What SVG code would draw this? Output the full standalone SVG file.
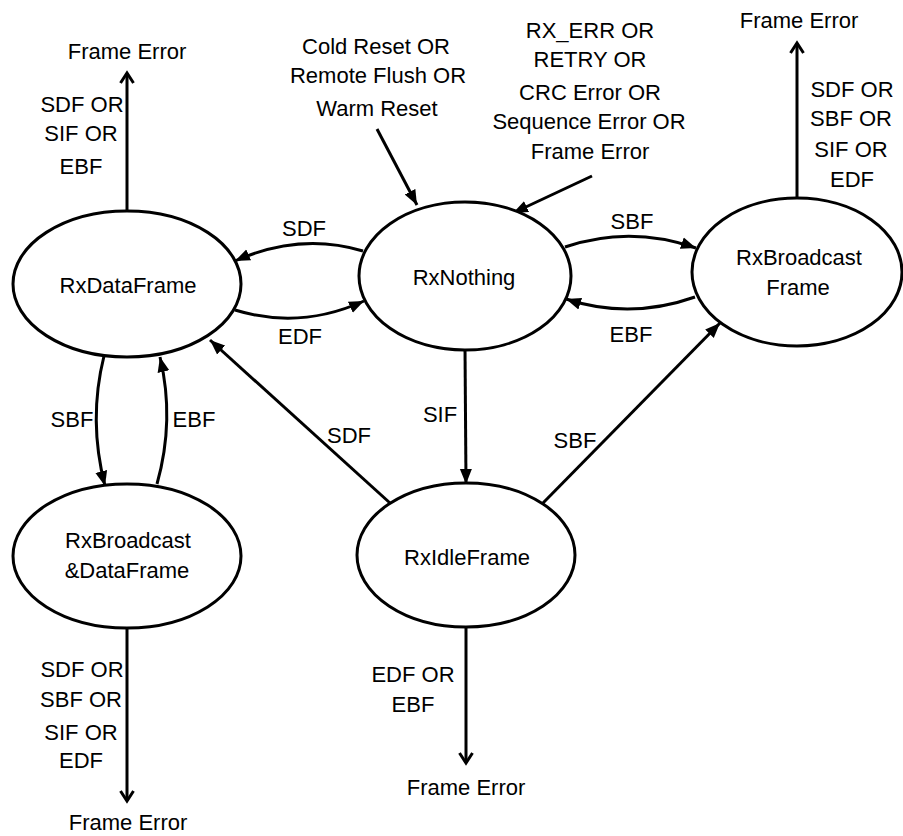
<svg xmlns="http://www.w3.org/2000/svg" width="903" height="836" viewBox="0 0 903 836">
<style>
text{font-family:"Liberation Sans",Arial,sans-serif;font-size:22px;fill:#000;text-anchor:middle}
.st{fill:#fff;stroke:#000;stroke-width:3}
.c{fill:none;stroke:#000;stroke-width:3}
.f{marker-end:url(#fa)}
.o{marker-end:url(#oa)}
</style>
<defs>
<marker id="fa" markerUnits="userSpaceOnUse" markerWidth="16" markerHeight="14" refX="15" refY="7" orient="auto" viewBox="0 0 16 14">
<path d="M0,1 L15,7 L0,13 z" fill="#000"/>
</marker>
<marker id="oa" markerUnits="userSpaceOnUse" markerWidth="14" markerHeight="16" refX="11" refY="8" orient="auto" viewBox="0 0 14 16">
<path d="M1,1.5 L11,8 L1,14.5" fill="none" stroke="#000" stroke-width="3"/>
</marker>
</defs>
<rect width="903" height="836" fill="#fff"/>
<g id="connectors">
<path class="c o" d="M127,211 L127,73"/>
<path class="c o" d="M797,198 L797,43"/>
<path class="c o" d="M127,628 L127,801"/>
<path class="c o" d="M466,627 L466,763"/>
<path class="c f" d="M377,129 L417,205"/>
<path class="c f" d="M592,176 L513,213"/>
<path class="c f" d="M363,251 Q300,232 235,261"/>
<path class="c f" d="M235,310 Q300,330 364,301"/>
<path class="c f" d="M565,247 Q630,225 696,248"/>
<path class="c f" d="M695,297 Q630,320 566,299"/>
<path class="c f" d="M104,356 Q88,420 105,486"/>
<path class="c f" d="M157,484 Q175,420 160,357"/>
<path class="c f" d="M390,503 L210,340"/>
<path class="c f" d="M465,348 L466,484"/>
<path class="c f" d="M543,503 L720,323"/>
</g>
<g id="labels">
<text x="127" y="59">Frame Error</text>
<text x="82" y="112">SDF OR</text>
<text x="81" y="141">SIF OR</text>
<text x="81" y="174">EBF</text>
<text x="376" y="54">Cold Reset OR</text>
<text x="378" y="83">Remote Flush OR</text>
<text x="377" y="116">Warm Reset</text>
<text x="590" y="38">RX_ERR OR</text>
<text x="590" y="67">RETRY OR</text>
<text x="590" y="100">CRC Error OR</text>
<text x="589" y="129">Sequence Error OR</text>
<text x="590" y="159">Frame Error</text>
<text x="799" y="28">Frame Error</text>
<text x="852" y="97">SDF OR</text>
<text x="851" y="126">SBF OR</text>
<text x="851" y="157">SIF OR</text>
<text x="852" y="187">EDF</text>
<text x="304" y="236">SDF</text>
<text x="300" y="344">EDF</text>
<text x="632" y="229">SBF</text>
<text x="631" y="342">EBF</text>
<text x="72" y="427">SBF</text>
<text x="194" y="427">EBF</text>
<text x="349" y="443">SDF</text>
<text x="440" y="422">SIF</text>
<text x="575" y="448">SBF</text>
<text x="82" y="677">SDF OR</text>
<text x="81" y="707">SBF OR</text>
<text x="81" y="740">SIF OR</text>
<text x="81" y="768">EDF</text>
<text x="128" y="830">Frame Error</text>
<text x="413" y="682">EDF OR</text>
<text x="413" y="712">EBF</text>
<text x="466" y="795">Frame Error</text>
</g>
<g id="RxDataFrame">
<ellipse class="st" cx="127" cy="284" rx="114" ry="73"/>
<text x="128" y="293">RxDataFrame</text>
</g>
<g id="RxNothing">
<ellipse class="st" cx="465" cy="276" rx="106" ry="74"/>
<text x="464" y="285">RxNothing</text>
</g>
<g id="RxBroadcastFrame">
<ellipse class="st" cx="797" cy="272" rx="105" ry="74"/>
<text x="799" y="265">RxBroadcast</text>
<text x="798" y="295">Frame</text>
</g>
<g id="RxBroadcastDataFrame">
<ellipse class="st" cx="127" cy="556" rx="114" ry="72"/>
<text x="128" y="548">RxBroadcast</text>
<text x="127" y="578">&amp;DataFrame</text>
</g>
<g id="RxIdleFrame">
<ellipse class="st" cx="466" cy="555" rx="109" ry="72"/>
<text x="467" y="565">RxIdleFrame</text>
</g>
</svg>
